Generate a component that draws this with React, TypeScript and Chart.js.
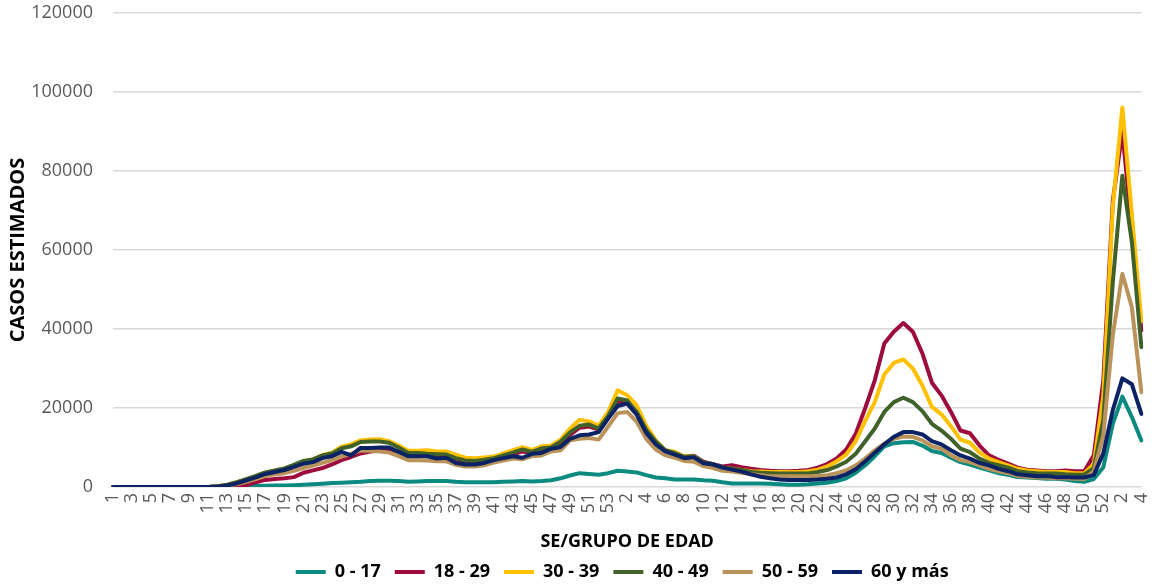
import React, { useEffect, useRef } from 'react';
import { Chart, registerables } from 'chart.js';

Chart.register(...registerables);

// Epidemiological weeks: 2020 (1-53), 2021 (1-52), 2022 (1-4)
const weekLabels = [
  '1','2','3','4','5','6','7','8','9','10','11','12','13','14','15','16','17','18','19','20',
  '21','22','23','24','25','26','27','28','29','30','31','32','33','34','35','36','37','38','39','40',
  '41','42','43','44','45','46','47','48','49','50','51','52','53',
  '1','2','3','4','5','6','7','8','9','10','11','12','13','14','15','16','17','18','19','20',
  '21','22','23','24','25','26','27','28','29','30','31','32','33','34','35','36','37','38','39','40',
  '41','42','43','44','45','46','47','48','49','50','51','52',
  '1','2','3','4',
];

const seriesNames = ['0 - 17', '18 - 29', '30 - 39', '40 - 49', '50 - 59', '60 y más'];
const seriesColors = ['#0B8A80', '#9E0B3F', '#FFC000', '#41612B', '#B9935A', '#0B2265'];

const age0to17 = [
  0,0,0,0,0,0,0,0,0,0,0,
  50,100,150,200,250,300,350,400,450,550,
  700,850,1000,1100,1200,1300,1500,1600,1600,1500,
  1300,1400,1500,1500,1500,1300,1200,1200,1200,1200,
  1300,1400,1500,1400,1500,1700,2200,2900,3500,3300,
  3100,3500,4100,3900,3700,3000,2400,2200,1900,1900,
  1900,1700,1600,1200,900,900,900,900,800,700,
  600,600,700,900,1100,1500,2200,3600,5500,7800,
  10300,11100,11300,11400,10500,9100,8600,7400,6300,5700,
  4900,4200,3500,3100,2500,2400,2300,2100,2100,1900,
  1500,1300,2000,5000,16000,22900,17700,11800,
];

const age18to29 = [
  0,0,0,0,0,0,0,0,0,0,0,
  50,150,300,500,1200,1800,2000,2200,2500,3600,
  4200,4800,5700,6800,7600,8500,9000,9200,9300,9000,
  8300,8300,8200,8000,8000,7000,6400,6300,6600,7000,
  7700,8300,9000,8600,9400,9700,11000,13200,15000,15300,
  14500,17500,21500,21300,18800,14200,11300,9200,8600,7700,
  7900,6400,5800,5200,5500,5000,4600,4300,4100,4000,
  4000,4100,4300,4900,5800,7200,9500,13500,20000,27000,
  36300,39300,41500,39300,33800,26400,23200,19000,14300,13600,
  10500,8000,6900,5900,4900,4400,4200,4000,4000,4200,
  4000,4000,8000,27000,72500,90000,65000,39600,
];

const age30to39 = [
  0,0,0,0,0,0,0,0,0,0,0,
  200,600,1200,1900,2700,3600,4100,4600,5500,6500,
  7000,8100,8700,10200,10800,11800,12000,12100,11600,10500,
  9200,9200,9300,9000,9000,8200,7400,7300,7500,7700,
  8500,9300,10100,9400,10300,10500,12000,14800,17000,16600,
  15500,19000,24500,23200,20700,15500,11800,9300,8900,7700,
  7800,6100,5500,4800,4600,4300,4000,3900,3800,3800,
  3800,3800,4000,4400,5200,6500,8200,11600,16800,21500,
  28500,31400,32300,30000,25700,20300,18400,15400,12000,11200,
  8700,7200,6300,5500,4600,4200,4000,3800,3800,3800,
  3500,3500,5800,23000,71000,96100,69000,42000,
];

const age40to49 = [
  0,0,0,0,0,0,0,0,0,0,0,
  200,600,1200,2000,2800,3700,4200,4700,5600,6600,
  7000,8000,8500,9800,10300,11400,11500,11500,11200,10000,
  8600,8600,8400,8300,8200,7300,6700,6600,6900,7300,
  8000,8700,9500,8900,9800,10000,11500,13800,15500,15800,
  14800,18000,22400,21900,19000,14500,11500,9300,8600,7600,
  7800,6200,5800,5000,4600,4300,3800,3600,3500,3400,
  3400,3400,3400,3800,4300,5200,6400,8400,11600,14800,
  19000,21500,22600,21500,19200,16000,14300,12200,9700,8800,
  7200,6100,5500,4900,4000,3700,3500,3400,3400,3200,
  3100,3100,4800,17000,52000,78800,62000,35400,
];

const age50to59 = [
  0,0,0,0,0,0,0,0,0,0,0,
  100,300,700,1300,2000,2800,3200,3500,4100,4800,
  5400,6100,6800,7700,8400,9200,9200,9000,8700,7800,
  6800,6800,6700,6500,6500,5600,5200,5200,5500,6200,
  6700,7200,7000,7800,8000,9000,9300,11800,12200,12400,
  12000,15300,18700,19000,16500,12200,9500,8000,7400,6600,
  6400,5300,4800,4100,3900,3600,3200,3000,2700,2700,
  2700,2700,2700,2800,3000,3500,4200,5500,7200,9300,
  11000,12200,12800,12700,11800,10300,9700,8000,6800,6300,
  5500,4600,4000,3500,2800,2600,2400,2400,2200,2200,
  2100,2000,4000,13000,38500,54000,45500,24000,
];

const age60plus = [
  0,0,0,0,0,0,0,0,0,0,0,
  100,400,900,1700,2450,3300,3800,4300,5100,5900,
  6300,7300,7800,8900,8000,9900,9900,10000,10000,8900,
  7800,7800,7800,7200,7400,6100,5700,5700,6100,6800,
  7300,7800,7400,8400,8600,9700,10100,12200,13100,13300,
  13900,17300,20500,21100,18300,13700,10800,9000,8200,7300,
  7500,6000,5700,4900,4400,3900,3200,2600,2200,1900,
  1800,1800,1800,1900,2100,2400,3200,4500,6500,8700,
  10800,12700,13900,13900,13300,11600,10800,9300,8000,7200,
  6100,5500,4600,4000,3200,3000,2700,2800,2500,2500,
  2400,2400,3000,8500,19500,27500,26000,18500,
];

const seriesData = [age0to17, age18to29, age30to39, age40to49, age50to59, age60plus];

const yTicks = [0, 20000, 40000, 60000, 80000, 100000, 120000];

const FONT = '"Open Sans", "DejaVu Sans", sans-serif';

const legendShift = {
  id: 'legendShift',
  afterLayout(chart: any) {
    const lg = chart.legend;
    const ca = chart.chartArea;
    if (!lg || !ca) return;
    const dx = (ca.left + ca.right) / 2 - (lg.left + lg.right) / 2 - 5;
    lg.left += dx;
    lg.right += dx;
    lg.top += 5;
    lg.bottom += 5;
  },
};

export default function App() {
  const canvasRef = useRef<HTMLCanvasElement | null>(null);

  useEffect(() => {
    if (!canvasRef.current) return;
    const n = seriesNames.length;
    const chart = new Chart(canvasRef.current, {
      type: 'line',
      data: {
        labels: weekLabels,
        datasets: seriesNames.map((name, i) => ({
          label: name,
          data: seriesData[i],
          borderColor: seriesColors[i],
          backgroundColor: seriesColors[i],
          borderWidth: 4,
          pointRadius: 0,
          pointHoverRadius: 0,
          tension: 0,
          fill: false,
          borderJoinStyle: 'round',
          borderCapStyle: 'round',
          order: n - 1 - i,
        })),
      },
      options: {
        animation: false,
        responsive: false,
        maintainAspectRatio: false,
        layout: { padding: { top: 0, right: 4, left: 0, bottom: 0 } },
        scales: {
          x: {
            type: 'category',
            offset: false,
            grid: { display: false, drawTicks: false },
            border: { display: false },
            afterFit: (scale: any) => {
              scale.height = 57;
            },
            ticks: {
              autoSkip: false,
              maxRotation: 90,
              minRotation: 90,
              padding: 6,
              color: '#595959',
              font: { family: FONT, size: 18 },
              callback: (_v: any, i: number) => (i % 2 === 0 ? weekLabels[i] : ''),
            },
            title: {
              display: true,
              text: 'SE/GRUPO DE EDAD',
              color: '#000000',
              font: { family: FONT, size: 18, weight: 'bold' },
              padding: { top: 0, bottom: -9 },
            },
          },
          y: {
            min: yTicks[0],
            max: yTicks[yTicks.length - 1],
            afterBuildTicks: (scale: any) => {
              scale.ticks = yTicks.map((v) => ({ value: v }));
            },
            afterFit: (scale: any) => {
              scale.width = 113;
              scale.paddingTop = 13;
              scale.paddingBottom = 0;
            },
            ticks: {
              color: '#595959',
              font: { family: FONT, size: 18 },
              padding: 20,
              callback: (v: any) => String(v),
            },
            grid: { color: '#D9D9D9', lineWidth: 1.5, drawTicks: false },
            border: { display: false },
            title: {
              display: true,
              text: 'CASOS ESTIMADOS',
              color: '#000000',
              font: { family: FONT, size: 20, weight: 'bold' },
              padding: { top: 6, bottom: 0 },
            },
          },
        },
        plugins: {
          legend: {
            position: 'bottom',
            labels: {
              boxWidth: 30,
              boxHeight: 4,
              padding: 14,
              color: '#000000',
              font: { family: FONT, size: 18, weight: 'bold' },
              sort: (a: any, b: any) => a.datasetIndex - b.datasetIndex,
              generateLabels: (c: any) =>
                Chart.defaults.plugins.legend.labels
                  .generateLabels(c)
                  .map((l: any) => ({ ...l, lineWidth: 0 })),
            },
          },
          tooltip: { enabled: false },
        },
      },
      plugins: [legendShift],
    } as any);
    return () => chart.destroy();
  }, []);

  return (
    <div style={{ position: 'fixed', left: 0, top: 0, width: 1169, height: 586, background: '#ffffff' }}>
      <canvas ref={canvasRef} width={1169} height={586} />
    </div>
  );
}
